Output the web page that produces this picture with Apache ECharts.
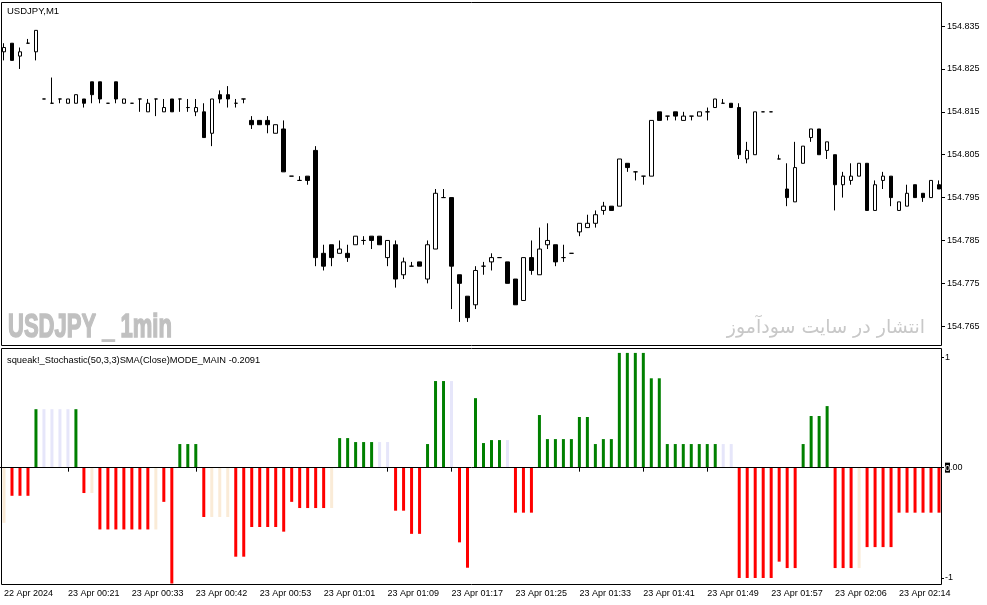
<!DOCTYPE html>
<html>
<head>
<meta charset="utf-8">
<script src="https://cdn.jsdelivr.net/npm/echarts@6.0.0/dist/echarts.min.js"></script>
<style>
html,body{margin:0;padding:0;background:#fff;}
#chart{width:987px;height:605px;}
</style>
</head>
<body>
<div id="chart"></div>
<script>
// ---- Data (USDJPY M1) ----
const timeLabels = ['22 Apr 2024','23 Apr 00:21','23 Apr 00:33','23 Apr 00:42','23 Apr 00:53','23 Apr 01:01','23 Apr 01:09','23 Apr 01:17','23 Apr 01:25','23 Apr 01:33','23 Apr 01:41','23 Apr 01:49','23 Apr 01:57','23 Apr 02:06','23 Apr 02:14'];
const priceTicks = [154.765,154.775,154.785,154.795,154.805,154.815,154.825,154.835];
const histTicks = [-1,0,1];

const openP = [
154.829,154.831,154.828,154.831,154.829,154.818,154.817,154.818,154.817,154.817,
154.818,154.822,154.822,154.817,154.822,154.817,154.817,154.818,154.815,154.818,
154.815,154.818,154.818,154.816,154.815,154.815,154.810,154.819,154.819,154.817,
154.818,154.813,154.813,154.813,154.810,154.811,154.800,154.799,154.800,154.806,
154.782,154.784,154.782,154.782,154.784,154.785,154.786,154.786,154.781,154.784,
154.777,154.779,154.780,154.776,154.783,154.795,154.795,154.777,154.772,154.770,
154.779,154.780,154.781,154.780,154.776,154.771,154.781,154.777,154.784,154.784,
154.781,154.782,154.787,154.788,154.789,154.792,154.793,154.793,154.803,154.801,
154.800,154.800,154.815,154.814,154.815,154.813,154.814,154.814,154.815,154.816,
154.817,154.817,154.816,154.804,154.805,154.815,154.815,154.804,154.797,154.794,
154.803,154.809,154.811,154.806,154.805,154.798,154.799,154.800,154.803,154.792,
154.799,154.800,154.792,154.793,154.798,154.796,154.795,154.798];
const closeP = [
154.830,154.827,154.829,154.831,154.834,154.818,154.817,154.818,154.818,154.819,
154.817,154.819,154.818,154.817,154.818,154.818,154.817,154.818,154.817,154.818,
154.816,154.815,154.818,154.816,154.816,154.809,154.818,154.818,154.818,154.817,
154.818,154.812,154.812,154.812,154.812,154.801,154.800,154.799,154.799,154.781,
154.779,154.781,154.783,154.781,154.786,154.785,154.785,154.784,154.785,154.776,
154.780,154.779,154.779,154.784,154.796,154.795,154.779,154.775,154.767,154.778,
154.779,154.781,154.781,154.775,154.770,154.781,154.778,154.783,154.785,154.780,
154.781,154.782,154.789,154.789,154.791,154.793,154.792,154.804,154.802,154.801,
154.800,154.813,154.813,154.814,154.814,154.814,154.814,154.815,154.815,154.818,
154.817,154.816,154.805,154.806,154.815,154.815,154.815,154.804,154.795,154.802,
154.807,154.811,154.805,154.808,154.798,154.800,154.800,154.803,154.792,154.798,
154.800,154.795,154.794,154.796,154.795,154.795,154.799,154.797];
const lowP = [
154.827,154.827,154.825,154.831,154.827,154.818,154.817,154.817,154.817,154.817,
154.816,154.817,154.817,154.817,154.817,154.817,154.817,154.815,154.815,154.814,
154.815,154.815,154.815,154.815,154.814,154.809,154.807,154.817,154.816,154.816,
154.817,154.811,154.812,154.810,154.810,154.801,154.800,154.799,154.798,154.779,
154.778,154.779,154.782,154.780,154.784,154.784,154.783,154.784,154.779,154.774,
154.776,154.779,154.779,154.775,154.783,154.795,154.769,154.766,154.766,154.769,
154.777,154.778,154.781,154.775,154.770,154.771,154.777,154.777,154.783,154.779,
154.780,154.782,154.786,154.788,154.788,154.791,154.792,154.793,154.801,154.799,
154.798,154.800,154.813,154.813,154.813,154.813,154.813,154.814,154.813,154.816,
154.817,154.816,154.804,154.803,154.805,154.815,154.815,154.804,154.793,154.794,
154.803,154.808,154.805,154.804,154.792,154.795,154.798,154.800,154.792,154.792,
154.797,154.793,154.792,154.793,154.795,154.794,154.795,154.797];
const highP = [
154.831,154.831,154.830,154.832,154.834,154.818,154.823,154.818,154.818,154.819,
154.818,154.822,154.822,154.817,154.822,154.818,154.817,154.818,154.818,154.818,
154.818,154.818,154.818,154.818,154.818,154.817,154.818,154.820,154.821,154.818,
154.818,154.814,154.813,154.814,154.812,154.813,154.800,154.800,154.800,154.807,
154.784,154.784,154.785,154.784,154.786,154.786,154.786,154.786,154.785,154.785,
154.781,154.780,154.780,154.785,154.797,154.797,154.795,154.777,154.772,154.779,
154.780,154.782,154.781,154.780,154.776,154.781,154.785,154.788,154.789,154.784,
154.784,154.782,154.789,154.791,154.792,154.794,154.793,154.804,154.803,154.801,
154.800,154.813,154.815,154.814,154.815,154.815,154.814,154.815,154.816,154.818,
154.818,154.817,154.817,154.808,154.815,154.815,154.815,154.805,154.803,154.808,
154.807,154.811,154.811,154.808,154.805,154.801,154.803,154.803,154.803,154.799,
154.801,154.800,154.794,154.798,154.798,154.796,154.799,154.799];

const histValues = [
-0.50,-0.255,-0.255,-0.255,0.53,0.53,0.53,0.53,0.53,0.53,
-0.23,-0.23,-0.56,-0.56,-0.56,-0.56,-0.56,-0.56,-0.56,-0.56,
-0.31,-1.05,0.214,0.214,0.214,-0.447,-0.447,-0.447,-0.447,-0.807,
-0.807,-0.538,-0.538,-0.538,-0.538,-0.58,-0.31,-0.366,-0.366,-0.366,
-0.366,-0.366,0.268,0.268,0.232,0.232,0.232,0.232,0.232,-0.39,
-0.39,-0.60,-0.60,0.214,0.785,0.785,0.785,-0.677,-0.907,0.63,
0.223,0.25,0.25,0.25,-0.408,-0.408,-0.408,0.477,0.259,0.259,
0.259,0.259,0.459,0.459,0.214,0.259,0.259,1.04,1.04,1.04,
1.04,0.81,0.81,0.214,0.214,0.214,0.214,0.214,0.214,0.214,
0.214,0.214,-1.0,-1.0,-1.0,-1.0,-1.0,-0.852,-0.91,-0.91,
0.214,0.468,0.468,0.558,-0.91,-0.91,-0.91,-0.91,-0.72,-0.72,
-0.72,-0.72,-0.408,-0.408,-0.408,-0.408,-0.408,-0.408];
const histStates = [
'p','r','r','r','g','l','l','l','l','g',
'r','p','r','r','r','r','r','r','r','p',
'r','r','g','g','g','r','p','p','p','r',
'r','r','r','r','r','r','r','r','r','r',
'r','p','g','g','g','g','g','l','l','r',
'r','r','r','g','g','g','l','r','r','g',
'g','g','g','l','r','r','r','g','g','g',
'g','g','g','g','g','g','g','g','g','g',
'g','g','g','g','g','g','g','g','g','g',
'l','l','r','r','r','r','r','r','r','r',
'g','g','g','g','r','r','r','p','r','r',
'r','r','r','r','r','r','r','r'];

// ---- Build ----
const FONT = '"Liberation Sans", Arial, sans-serif';
const stateColors = {r:'#FF0000', g:'#008000', l:'#E6E6FA', p:'#FAEBD7'};
const cats = openP.map((_, i) => String(i));
const candleData = openP.map((o, i) => [o, closeP[i], lowP[i], highP[i]]);
const histData = histValues.map((v, i) => ({value: v, itemStyle: {color: stateColors[histStates[i]]}}));
const every8 = (idx) => idx % 8 === 0;

const chart = echarts.init(document.getElementById('chart'), null, {renderer: 'canvas'});
chart.setOption({
  animation: false,
  backgroundColor: '#ffffff',
  grid: [
    {left: -1, width: 944, top: 2.5, height: 343, show: false},
    {left: -1, width: 944, top: 348.5, height: 236, show: false}
  ],
  xAxis: [
    {type: 'category', gridIndex: 0, data: cats, boundaryGap: true, show: false},
    {type: 'category', gridIndex: 1, data: cats, boundaryGap: true, position: 'bottom',
     axisLine: {show: false},
     axisTick: {show: true, interval: every8, alignWithLabel: true, length: 4, lineStyle: {color: '#000', width: 1}},
     axisLabel: {interval: every8, formatter: (v, idx) => every8(idx) ? timeLabels[idx / 8] : '',
                 align: 'left', margin: 5, fontSize: 9, color: '#000', fontFamily: FONT},
     splitLine: {show: false}}
  ],
  yAxis: [
    {type: 'value', gridIndex: 0, position: 'right', offset: -2, min: 154.7605, max: 154.8405,
     splitLine: {show: false}, axisLine: {show: false},
     axisTick: {show: true, length: 4, customValues: priceTicks, lineStyle: {color: '#000'}},
     axisLabel: {customValues: priceTicks, formatter: v => v.toFixed(3), margin: 6, fontSize: 9, color: '#000', fontFamily: FONT}},
    {type: 'value', gridIndex: 1, position: 'right', offset: -2, min: -1.059, max: 1.08,
     splitLine: {show: false}, axisLine: {show: false},
     axisTick: {show: true, length: 3, customValues: histTicks, lineStyle: {color: '#000'}},
     axisLabel: {customValues: histTicks, margin: 4, fontSize: 9, color: '#000', fontFamily: FONT,
                 formatter: v => v === 0 ? '{z|0}.00' : String(v),
                 rich: {z: {backgroundColor: '#000', color: '#fff', fontSize: 9, fontFamily: FONT, padding: [1, 0, 0, 0]}}}}
  ],
  series: [
    {type: 'candlestick', xAxisIndex: 0, yAxisIndex: 0, data: candleData, barWidth: 4,
     itemStyle: {color: '#ffffff', color0: '#000000', borderColor: '#000000', borderColor0: '#000000',
                 borderColorDoji: '#000000', borderWidth: 1}},
    {type: 'bar', xAxisIndex: 1, yAxisIndex: 1, data: histData, barWidth: 3,
     markLine: {silent: true, symbol: ['none', 'none'], label: {show: false},
                lineStyle: {color: '#000', width: 1, type: 'solid'}, data: [{yAxis: 0}]}}
  ],
  graphic: [
    {type: 'rect', shape: {x: 1.5, y: 2.5, width: 940, height: 343}, style: {fill: null, stroke: '#000', lineWidth: 1}, z: 100, silent: true},
    {type: 'rect', shape: {x: 1.5, y: 348.5, width: 940, height: 236}, style: {fill: null, stroke: '#000', lineWidth: 1}, z: 100, silent: true},
    {type: 'text', style: {x: 7, y: 11, text: 'USDJPY,M1', font: '9.5px ' + FONT, fill: '#000', textVerticalAlign: 'middle'}, z: 100},
    {type: 'text', style: {x: 7, y: 360, text: 'squeak!_Stochastic(50,3,3)SMA(Close)MODE_MAIN -0.2091', font: '9.3px ' + FONT, fill: '#000', textVerticalAlign: 'middle'}, z: 100},
    {type: 'text', x: 8, y: 328, scaleX: 0.71, scaleY: 1.05,
     style: {x: 0, y: 0, text: 'USDJPY _ 1min', font: 'bold 31px "Liberation Sans", sans-serif', fill: '#C0C0C0',
             stroke: '#C0C0C0', lineWidth: 1.4, textVerticalAlign: 'middle'}, z: 1},
    {type: 'text', style: {x: 925, y: 328, text: 'انتشار در سایت سودآموز', font: '19px "DejaVu Sans", sans-serif', fill: '#C8C8C8', textAlign: 'right', textVerticalAlign: 'middle'}, z: 1}
  ]
});
</script>
</body>
</html>
